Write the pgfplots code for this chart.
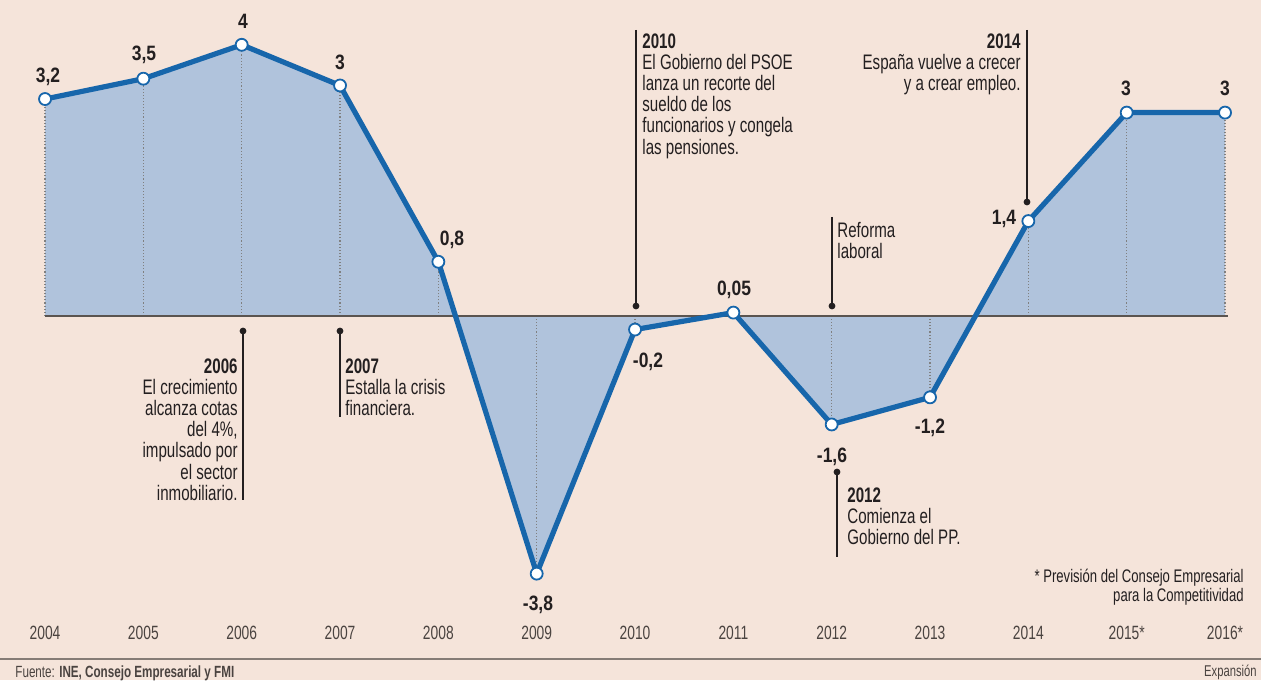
\documentclass[border=0pt]{standalone}
\usepackage{pgfplots}
\pgfplotsset{compat=1.18}
\usepackage{pgfplotstable}
\usepackage{fontspec}
\setmainfont{Liberation Sans}[FakeStretch=0.72]
\newfontfamily\valfont{Liberation Sans}[FakeStretch=0.84]
\definecolor{bg}{HTML}{F5E4DA}
\definecolor{fillb}{HTML}{B0C3DC}
\definecolor{lineb}{HTML}{1766AB}
\definecolor{txt}{HTML}{231F20}
\definecolor{tickc}{HTML}{4A4340}
\definecolor{zeroc}{HTML}{5A5450}
\definecolor{rulec}{HTML}{857C76}

\pgfplotstableread{
x y
2004 3.2
2005 3.5
2006 4
2007 3.4
2008 0.8
2009 -3.8
2010 -0.2
2011 0.05
2012 -1.6
2013 -1.2
2014 1.4
2015 3
2016 3
}\datatable

\begin{document}
\begin{tikzpicture}
\useasboundingbox (0,0) rectangle (630.5pt,340pt);
\fill[bg] (0,0) rectangle (630.5pt,340pt);
\begin{axis}[
  at={(0,0)}, anchor=south west,
  scale only axis, width=630.5pt, height=340pt,
  xmin=2003.542, xmax=2016.366, ymin=-5.369, ymax=4.661,
  axis line style={draw=none}, major tick length=0pt,
  ytick=\empty,
  xtick={2004,2005,2006,2007,2008,2009,2010,2011,2012,2013,2014,2015,2016},
  xticklabels={2004,2005,2006,2007,2008,2009,2010,2011,2012,2013,2014,2015*,2016*},
  xticklabel style={anchor=center, yshift=23.5pt, font=\fontsize{9.6}{10}\selectfont, text=tickc},
  clip=false]
\addplot[draw=none, fill=fillb] table[x=x,y=y] {\datatable} \closedcycle;
\addplot[ycomb, densely dotted, color=gray, line width=0.55pt, mark=none] table[x=x,y=y] {\datatable};
\addplot[color=zeroc, line width=0.8pt, mark=none] coordinates {(2004,0) (2016.03,0)};
\addplot[color=lineb, line width=2.6pt, line join=round, mark=*, mark size=3pt,
  mark options={fill=white, draw=lineb, line width=0.9pt}] table[x=x,y=y] {\datatable};
\end{axis}
\begin{scope}[x=0.5pt, y=-0.5pt, shift={(0pt,340pt)},
  ann/.style={inner sep=0pt, font=\fontsize{10.5}{10.6}\selectfont, text=txt},
  val/.style={inner sep=0pt, font=\valfont\bfseries\fontsize{10.4}{11}\selectfont, text=txt, anchor=center},
  aline/.style={draw=txt, line width=0.6pt}]
% value labels
\node[val] at (48,77) {3,2};
\node[val] at (144,55) {3,5};
\node[val] at (243,21) {4};
\node[val] at (340,62) {3};
\node[val] at (452,240) {0,8};
\node[val] at (538,605) {-3,8};
\node[val] at (648,362) {-0,2};
\node[val] at (734,290) {0,05};
\node[val] at (832,457) {-1,6};
\node[val] at (930,428) {-1,2};
\node[val] at (1004,219) {1,4};
\node[val] at (1126,88) {3};
\node[val] at (1225,88) {3};
% annotations
\draw[aline] (243,331) -- (243,500);
\fill[txt] (243,331) circle[radius=1.7pt];
\node[ann, anchor=north east, align=right] at (238,358) {\textbf{2006}\\El crecimiento\\alcanza cotas\\del 4\%,\\impulsado por\\el sector\\inmobiliario.};
\draw[aline] (340,331) -- (340,417);
\fill[txt] (340,331) circle[radius=1.7pt];
\node[ann, anchor=north west, align=left] at (345,358) {\textbf{2007}\\Estalla la crisis\\financiera.};
\draw[aline] (636,30) -- (636,306);
\fill[txt] (636,306) circle[radius=1.7pt];
\node[ann, anchor=north west, align=left] at (642,33) {\textbf{2010}\\El Gobierno del PSOE\\lanza un recorte del\\sueldo de los\\funcionarios y congela\\las pensiones.};
\draw[aline] (832,217) -- (832,306);
\fill[txt] (832,306) circle[radius=1.7pt];
\node[ann, anchor=north west, align=left] at (837,222) {Reforma\\laboral};
\draw[aline] (837,472) -- (837,557);
\fill[txt] (837,472) circle[radius=1.7pt];
\node[ann, anchor=north west, align=left] at (847,487) {\textbf{2012}\\Comienza el\\Gobierno del PP.};
\draw[aline] (1027,30) -- (1027,202);
\fill[txt] (1027,202) circle[radius=1.7pt];
\node[ann, anchor=north east, align=right] at (1021,33) {\textbf{2014}\\España vuelve a crecer\\y a crear empleo.};
% footnote
\node[inner sep=0pt, anchor=east, align=right, font=\fontsize{9.1}{9.5}\selectfont, text=txt] at (1244,587.5) {* Previsión del Consejo Empresarial\\para la Competitividad};
% bottom rule and footer
\draw[color=rulec, line width=1.1pt] (0,659) -- (1261,659);
\node[inner sep=0pt, anchor=base west, font=\fontsize{8.1}{8.5}\selectfont, text=tickc] at (15,677) {Fuente: \textbf{INE, Consejo Empresarial y FMI}};
\node[inner sep=0pt, anchor=base east, font=\fontsize{7.8}{8}\selectfont, text=tickc] at (1257,676) {Expansión};
\end{scope}
\end{tikzpicture}
\end{document}
